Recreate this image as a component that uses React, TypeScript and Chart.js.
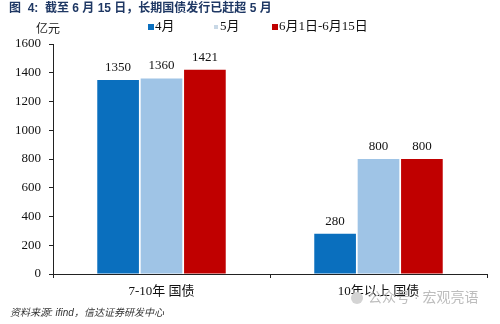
import React, { useEffect, useRef } from "react";
import { Chart, registerables } from "chart.js";

Chart.register(...registerables);

const categories = ["7-10年 国债", "10年以上 国债"];
const seriesLabels = ["4月", "5月", "6月1日-6月15日"];
const aprilValues = [1350, 280];
const mayValues = [1360, 800];
const juneValues = [1421, 800];
const yTicks = [0, 200, 400, 600, 800, 1000, 1200, 1400, 1600];
const colors = ["#0a6fbe", "#9fc4e6", "#c00000"];

const titleText = "图  4:  截至 6 月 15 日，长期国债发行已赶超 5 月";
const unitText = "亿元";
const sourceText = "资料来源: ifind，信达证券研发中心";
const watermarkText = "公众号 · 宏观亮语";

const SERIF = "'Liberation Serif', 'Noto Sans CJK SC', serif";
const SANS = "'Liberation Sans', 'Noto Sans CJK SC', sans-serif";

Chart.defaults.font.family = SERIF;

export default function App() {
  const ref = useRef<HTMLCanvasElement | null>(null);
  useEffect(() => {
    if (!ref.current) return;
    const decor = {
      id: "decor",
      afterDatasetsDraw(chart: any) {
        const ctx = chart.ctx;
        ctx.save();
        // value labels
        ctx.font = "13px " + SERIF;
        ctx.fillStyle = "#111";
        ctx.textAlign = "center";
        ctx.textBaseline = "bottom";
        chart.data.datasets.forEach((ds: any, i: number) => {
          const meta = chart.getDatasetMeta(i);
          meta.data.forEach((el: any, j: number) => {
            ctx.fillText(String(ds.data[j]), el.x, el.y - 6);
          });
        });
        // title
        ctx.textAlign = "left";
        ctx.textBaseline = "middle";
        ctx.font = "bold 12px " + SANS;
        ctx.fillStyle = "#1f3864";
        ctx.fillText(titleText, 9, 9);
        // unit
        ctx.font = "12px " + SERIF;
        ctx.fillStyle = "#222";
        ctx.fillText(unitText, 36, 30);
        // legend
        const legendX = [148, 213, 272];
        ctx.font = "13px " + SERIF;
        chart.data.datasets.forEach((ds: any, i: number) => {
          const x = legendX[i];
          ctx.fillStyle = ds.backgroundColor;
          if (i === 1) {
            ctx.fillStyle = "#c8d8e6";
            ctx.fillRect(x + 1, 25, 4, 4);
          } else {
            ctx.fillRect(x, 24, 6, 6);
          }
          ctx.fillStyle = "#111";
          ctx.fillText(ds.label, x + 7, 27);
        });
        // source
        ctx.font = "italic 10px " + SANS;
        ctx.fillStyle = "#333";
        ctx.fillText(sourceText, 10, 313);
        // watermark
        ctx.font = "14px " + SANS;
        ctx.fillStyle = "#bdbdbd";
        ctx.fillText(watermarkText, 368, 298);
        ctx.beginPath();
        ctx.arc(357, 298, 6, 0, Math.PI * 2);
        ctx.fillStyle = "#d4d4d4";
        ctx.fill();
        ctx.restore();
      },
    };
    const chart = new Chart(ref.current, {
      type: "bar",
      data: {
        labels: categories,
        datasets: [
          { label: seriesLabels[0], data: aprilValues, backgroundColor: colors[0] },
          { label: seriesLabels[1], data: mayValues, backgroundColor: colors[1] },
          { label: seriesLabels[2], data: juneValues, backgroundColor: colors[2] },
        ],
      },
      options: {
        responsive: false,
        animation: false,
        devicePixelRatio: 1,
        layout: { padding: { left: 8, right: 13, top: 44, bottom: 0 } },
        datasets: { bar: { categoryPercentage: 0.6, barPercentage: 0.96 } },
        plugins: {
          legend: { display: false },
          title: { display: false },
          tooltip: { enabled: false },
        },
        scales: {
          x: {
            grid: {
              display: true,
              offset: true,
              drawOnChartArea: false,
              drawTicks: true,
              tickLength: 4,
              color: "#222",
            },
            border: { display: true, color: "#222", width: 1 },
            ticks: {
              font: { family: SERIF, size: 13 },
              color: "#111",
              padding: 6,
            },
            afterFit: (s: any) => {
              s.height = 50;
            },
          },
          y: {
            min: 0,
            max: 1600,
            afterBuildTicks: (s: any) => {
              s.ticks = yTicks.map((v) => ({ value: v }));
            },
            grid: {
              display: true,
              drawOnChartArea: false,
              drawTicks: true,
              tickLength: 4,
              color: "#222",
            },
            border: { display: true, color: "#222", width: 1 },
            ticks: {
              font: { family: SERIF, size: 13 },
              color: "#111",
              padding: 8,
              callback: (v: any) => String(v),
            },
            afterFit: (s: any) => {
              s.width = 45;
            },
          },
        },
      },
      plugins: [decor],
    });
    return () => chart.destroy();
  }, []);
  return (
    <div style={{ position: "fixed", left: 0, top: 0, width: 500, height: 324, background: "#fff" }}>
      <canvas ref={ref} width={500} height={324} />
    </div>
  );
}
